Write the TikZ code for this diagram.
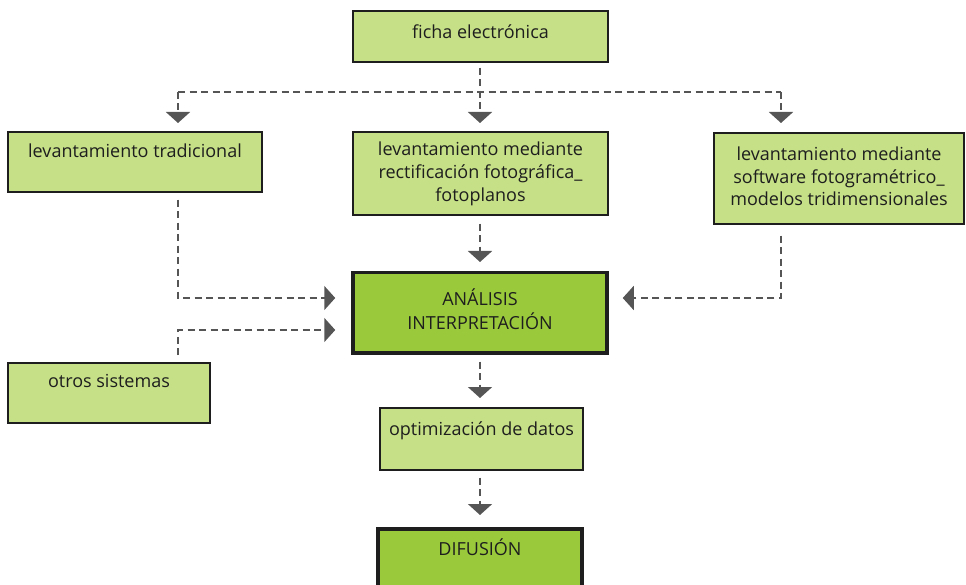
\documentclass[tikz,border=0pt]{standalone}
\usepackage{fontspec}
\setmainfont{Open Sans}
\usetikzlibrary{arrows.meta}
\definecolor{lg}{HTML}{C5E086}
\definecolor{dg}{HTML}{9ACA3C}
\definecolor{ln}{HTML}{555555}
\definecolor{bd}{HTML}{1E1E1E}
\definecolor{tx}{HTML}{1E1E1E}
\begin{document}
\begin{tikzpicture}[x=1pt,y=1pt,
  box/.style={draw=bd, fill=lg, line width=1.6pt, inner sep=0pt, align=center, text=tx,
    font=\fontsize{18}{23}\selectfont, anchor=north},
  boxthick/.style={box, fill=dg, line width=3.5pt},
  dl/.style={draw=ln, line width=1.8pt, dash pattern=on 7pt off 4.5pt},
  arr/.style={dl, -{Triangle[width=24pt,length=11pt,fill=ln]}}
]
\useasboundingbox (0,0) rectangle (966,-585);
\node[box, minimum width=255pt, text height=28pt, text depth=23pt] (fe) at (480.5,-10) {ficha electrónica};
\node[box, minimum width=254pt, text height=26pt, text depth=34pt] (lt) at (135,-131) {levantamiento tradicional};
\node[box, minimum width=255pt, text height=70pt, text depth=13pt] (lr) at (480.5,-131) {levantamiento mediante\\rectificación fotográfica\_\\fotoplanos};
\node[box, minimum width=250pt, text height=73pt, text depth=18pt, font=\fontsize{18}{22.5}\selectfont] (ls) at (839,-132) {levantamiento mediante\\software fotogramétrico\_\\modelos tridimensionales};
\node[boxthick, minimum width=254pt, text height=57pt, text depth=23pt, font=\fontsize{18}{24}\selectfont] (an) at (480,-271) {ANÁLISIS\\INTERPRETACIÓN};
\node[box, minimum width=202pt, text height=25pt, text depth=35pt] (os) at (109,-362) {otros sistemas};
\node[box, minimum width=203pt, text height=28pt, text depth=34pt] (od) at (481.5,-407) {optimización de datos};
\node[boxthick, minimum width=204pt, text height=27pt, text depth=60pt] (di) at (480,-527) {DIFUSIÓN};
% top distribution
\coordinate (cL) at (178,-92);
\coordinate (cR) at (781,-92);
\coordinate (cM) at (480,-92);
\draw[dl] (cL) -- (cR);
\draw[arr, shorten >=8pt] ([yshift=-5pt]fe.south -| cM) -- (cM |- lr.north);
\draw[arr, shorten >=8pt] (cL) -- (cL |- lt.north);
\draw[arr, shorten >=9pt] (cR) -- (cR |- ls.north);
% into analysis
\coordinate (aL) at (178,-298);
\coordinate (aO) at (178,-330);
\coordinate (aR) at (781,-298);
\draw[arr, shorten >=16pt] ([yshift=-7pt]lt.south -| cL) -- (aL) -- (aL -| an.west);
\draw[arr, shorten >=16pt] ([yshift=7pt]os.north -| aO) -- (aO) -- (aO -| an.west);
\draw[arr, shorten >=14pt] ([yshift=-11pt]ls.south -| aR) -- (aR) -- (aR -| an.east);
\draw[arr, shorten >=9pt] ([yshift=-8pt]lr.south -| cM) -- (cM |- an.north);
% down the chain
\draw[arr, shorten >=9pt] ([yshift=-7pt]an.south -| cM) -- (cM |- od.north);
\draw[arr, shorten >=12pt] ([yshift=-7pt]od.south -| cM) -- (cM |- di.north);
\end{tikzpicture}
\end{document}
